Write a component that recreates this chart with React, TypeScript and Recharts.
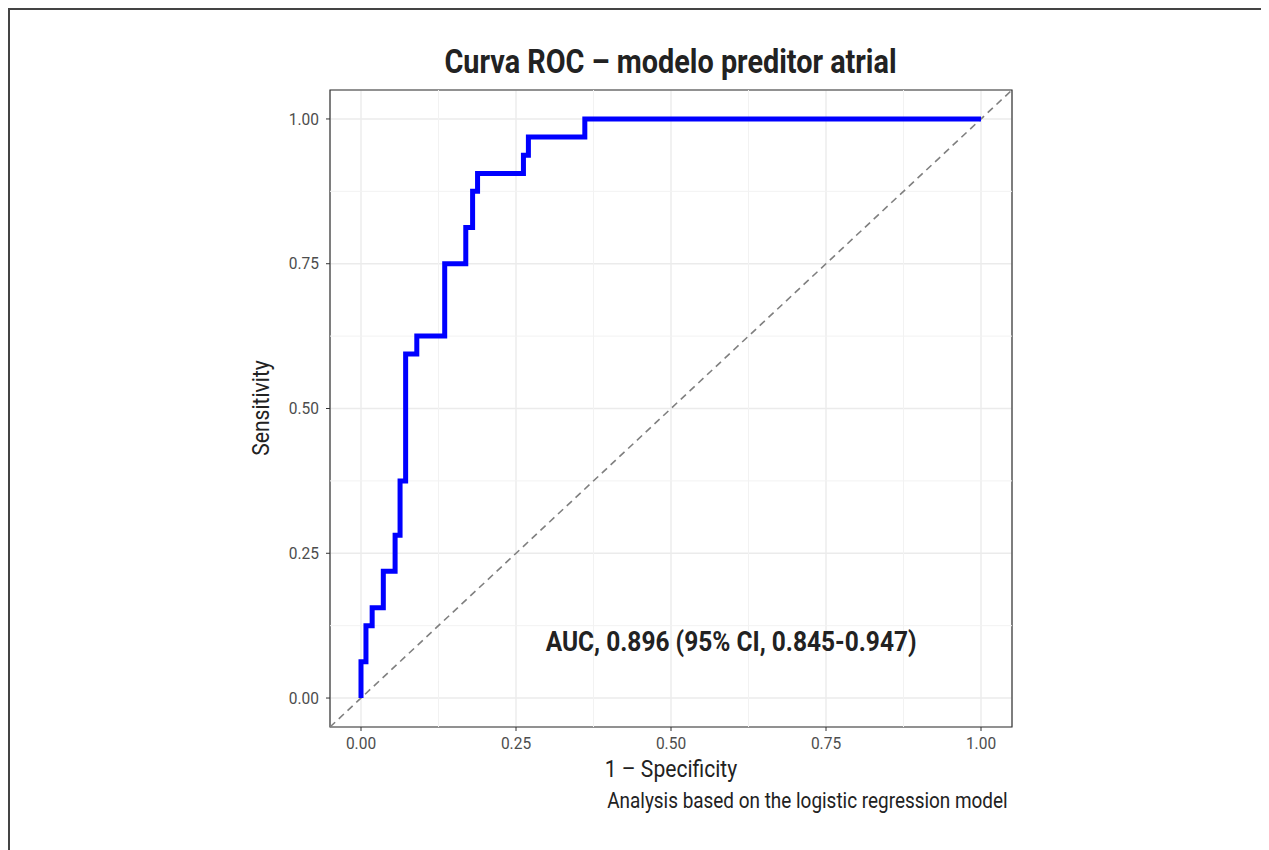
import { LineChart, Line, XAxis, YAxis, CartesianGrid, ReferenceLine, ReferenceArea, ReferenceDot } from 'recharts';

const fpr = [0, 0, 0.008, 0.008, 0.018, 0.018, 0.036, 0.036, 0.055, 0.055, 0.063, 0.063, 0.072, 0.072, 0.09, 0.09, 0.135, 0.135, 0.169, 0.169, 0.18, 0.18, 0.188, 0.188, 0.262, 0.262, 0.27, 0.27, 0.361, 0.361, 1];
const tpr = [0, 0.0625, 0.0625, 0.125, 0.125, 0.156, 0.156, 0.219, 0.219, 0.281, 0.281, 0.375, 0.375, 0.594, 0.594, 0.625, 0.625, 0.75, 0.75, 0.8125, 0.8125, 0.875, 0.875, 0.906, 0.906, 0.9375, 0.9375, 0.969, 0.969, 1, 1];

const majorTicks = [0, 0.25, 0.5, 0.75, 1];
const minorTicks = [0.125, 0.375, 0.625, 0.875];
const limits = [-0.05, 1.05];

const title = 'Curva ROC – modelo preditor atrial';
const xTitle = '1 – Specificity';
const yTitle = 'Sensitivity';
const caption = 'Analysis based on the logistic regression model';
const aucText = 'AUC, 0.896 (95% CI, 0.845-0.947)';
const aucPos = { x: 0.597, y: 0.098 };

const FONT = 'Roboto, sans-serif';
const SQUEEZE = 0.86; // fake a condensed face

const rocData = fpr.map((x, i) => ({ x, y: tpr[i] }));

// narrow svg text at (x, y)
function NarrowText({ x, y, anchor, size, weight, fill, children, dy, squeeze }: any) {
  return (
    <text
      transform={`translate(${x},${y}) scale(${squeeze ?? SQUEEZE},1)`}
      textAnchor={anchor}
      fontSize={size}
      fontWeight={weight || 400}
      fill={fill}
      fontFamily={FONT}
      dy={dy}
    >
      {children}
    </text>
  );
}

const XTick = ({ x, y, payload }: any) => (
  <NarrowText x={x} y={y} anchor="middle" size={16} squeeze={0.97} fill="#4d4d4d" dy="0.71em">
    {payload.value.toFixed(2)}
  </NarrowText>
);

const YTick = ({ x, y, payload }: any) => (
  <NarrowText x={x} y={y} anchor="end" size={16} squeeze={0.97} fill="#4d4d4d" dy="0.355em">
    {payload.value.toFixed(2)}
  </NarrowText>
);

const AucLabel = ({ viewBox }: any) => {
  const cx = viewBox.x + viewBox.width / 2;
  const cy = viewBox.y + viewBox.height / 2;
  return (
    <NarrowText x={cx} y={cy} anchor="middle" size={28.5} weight={700} fill="#222" dy="0.355em">
      {aucText}
    </NarrowText>
  );
};

const narrowDiv = (origin: string): any => ({
  position: 'absolute',
  transform: `scaleX(${SQUEEZE})`,
  transformOrigin: origin,
  whiteSpace: 'nowrap',
  lineHeight: 1,
});

export default function App() {
  return (
    <div
      style={{
        position: 'relative',
        width: 1252,
        height: 860,
        border: '2px solid #444',
        background: '#fff',
        fontFamily: FONT,
      }}
    >
      <div style={{ position: 'absolute', left: 0, top: 0 }}>
        <LineChart
          width={1250}
          height={840}
          data={rocData}
          margin={{ top: 80, right: 248, bottom: 93, left: 260 }}
        >
          <CartesianGrid stroke="#ebebeb" strokeWidth={1.4} />
          {minorTicks.map((v) => (
            <ReferenceLine key={'vx' + v} x={v} stroke="#f2f2f2" strokeWidth={1} />
          ))}
          {minorTicks.map((v) => (
            <ReferenceLine key={'hy' + v} y={v} stroke="#f2f2f2" strokeWidth={1} />
          ))}
          <XAxis
            dataKey="x"
            type="number"
            domain={limits}
            ticks={majorTicks}
            allowDataOverflow
            height={30}
            tick={<XTick />}
            tickSize={4}
            tickMargin={7}
            axisLine={false}
            tickLine={{ stroke: '#333' }}
          />
          <YAxis
            dataKey="y"
            type="number"
            domain={limits}
            ticks={majorTicks}
            allowDataOverflow
            width={60}
            tick={<YTick />}
            tickSize={4}
            tickMargin={7}
            axisLine={false}
            tickLine={{ stroke: '#333' }}
          />
          <ReferenceLine
            segment={[
              { x: limits[0], y: limits[0] },
              { x: limits[1], y: limits[1] },
            ]}
            stroke="#7f7f7f"
            strokeWidth={1.6}
            strokeDasharray="7 5"
          />
          <Line
            dataKey="y"
            type="linear"
            stroke="#0000ff"
            strokeWidth={5}
            dot={false}
            strokeLinejoin="miter"
            isAnimationActive={false}
          />
          <ReferenceDot x={aucPos.x} y={aucPos.y} r={0} fill="none" stroke="none" label={<AucLabel />} />
          <ReferenceArea
            x1={limits[0]}
            x2={limits[1]}
            y1={limits[0]}
            y2={limits[1]}
            fill="none"
            stroke="#333"
            strokeWidth={1.2}
          />
        </LineChart>
      </div>
      <div
        style={{
          ...narrowDiv('center'),
          left: 0,
          top: 35,
          width: 1321,
          textAlign: 'center',
          fontSize: 33.5,
          fontWeight: 700,
          color: '#222',
        }}
      >
        {title}
      </div>
      <div
        style={{
          ...narrowDiv('center'),
          left: 0,
          top: 747,
          width: 1322,
          textAlign: 'center',
          fontSize: 24.5,
          color: '#222',
        }}
      >
        {xTitle}
      </div>
      <div
        style={{
          position: 'absolute',
          left: 251,
          top: 398,
          width: 0,
          height: 0,
        }}
      >
        <div
          style={{
            position: 'absolute',
            left: 0,
            top: 0,
            transform: `translate(-50%, -50%) rotate(-90deg) scaleX(${SQUEEZE})`,
            whiteSpace: 'nowrap',
            lineHeight: 1,
            fontSize: 24.5,
            color: '#222',
          }}
        >
          {yTitle}
        </div>
      </div>
      <div
        style={{
          ...narrowDiv('right'),
          right: 254,
          top: 780,
          fontSize: 22,
          color: '#222',
        }}
      >
        {caption}
      </div>
    </div>
  );
}
